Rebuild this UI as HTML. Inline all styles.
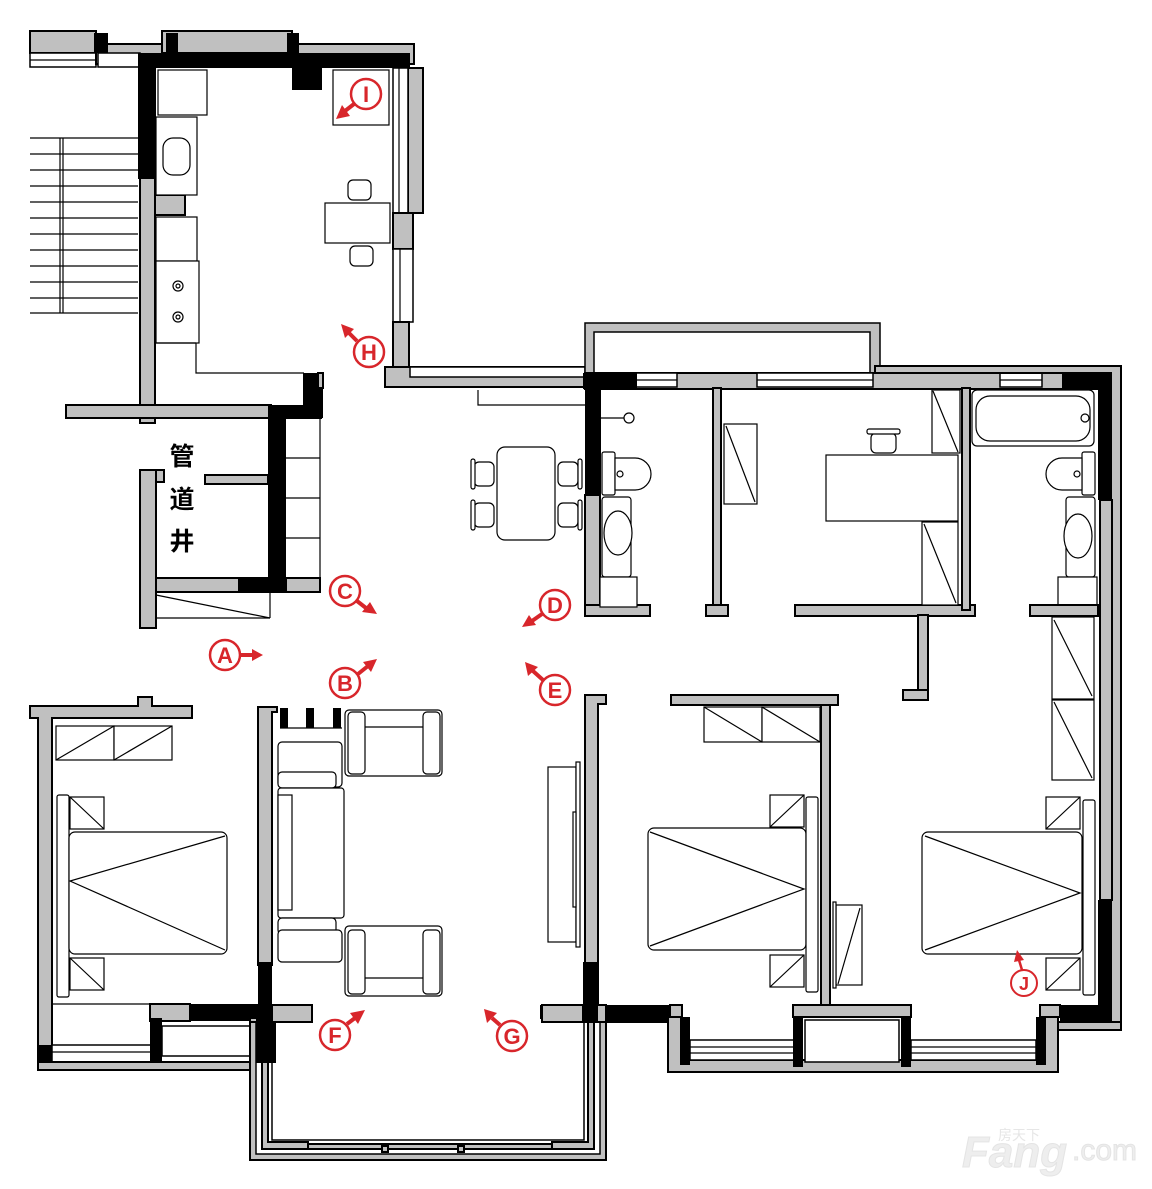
<!DOCTYPE html>
<html><head><meta charset="utf-8"><style>
html,body{margin:0;padding:0;background:#fff;}
svg{display:block}
.w{fill:#c0c0c0;stroke:#000;stroke-width:2}
.b{fill:#000}
.f{fill:#fff;stroke:#000;stroke-width:1.2}
.l{stroke:#000;stroke-width:1.2;fill:none}
.wn{fill:#fff;stroke:#000;stroke-width:1.5}
.lbl circle{fill:#fff;stroke:#d8262b;stroke-width:2.5}
.lbl text{fill:#d8262b;font-family:"Liberation Sans",sans-serif;font-weight:bold;font-size:22px;text-anchor:middle}
.ar{stroke:#d8262b;stroke-width:4;fill:none}
.ah{fill:#d8262b}
</style></head><body>
<svg width="1152" height="1189" viewBox="0 0 1152 1189" xmlns="http://www.w3.org/2000/svg">
<rect class="w" x="30" y="31" width="66" height="22"/>
<rect class="wn" x="30" y="53" width="66" height="14"/>
<line class="l" x1="30" y1="60" x2="96" y2="60"/>
<rect class="w" x="96" y="44" width="318" height="20"/>
<rect class="w" x="162" y="31" width="130" height="22"/>
<rect class="b" x="94" y="33" width="14" height="20"/>
<rect class="b" x="166" y="33" width="12" height="22"/>
<rect class="b" x="287" y="33" width="12" height="22"/>
<rect class="wn" x="98" y="53" width="42" height="14"/>
<rect class="wn" x="245" y="53" width="45" height="14"/>
<rect class="b" x="138" y="53" width="272" height="15"/>
<rect class="b" x="138" y="53" width="18" height="126"/>
<rect class="b" x="292" y="53" width="30" height="37"/>
<rect class="w" x="140" y="178" width="15" height="245"/>
<rect class="w" x="155" y="195" width="30" height="20"/>
<rect class="w" x="408" y="68" width="15" height="145"/>
<rect class="wn" x="393" y="68" width="15" height="145"/>
<line class="l" x1="399" y1="68" x2="399" y2="213"/>
<rect class="w" x="393" y="213" width="20" height="36"/>
<rect class="wn" x="393" y="249" width="20" height="73"/>
<line class="l" x1="400" y1="249" x2="400" y2="322"/>
<rect class="w" x="393" y="322" width="16" height="45"/>
<rect class="w" x="385" y="367" width="200" height="20"/>
<rect class="wn" x="410" y="367" width="175" height="10"/>
<g class="l">
<line x1="30" y1="138" x2="138" y2="138"/><line x1="30" y1="154" x2="138" y2="154"/>
<line x1="30" y1="170" x2="138" y2="170"/><line x1="30" y1="186" x2="138" y2="186"/>
<line x1="30" y1="202" x2="138" y2="202"/><line x1="30" y1="218" x2="138" y2="218"/>
<line x1="30" y1="234" x2="138" y2="234"/><line x1="30" y1="250" x2="138" y2="250"/>
<line x1="30" y1="266" x2="138" y2="266"/><line x1="30" y1="282" x2="138" y2="282"/>
<line x1="30" y1="298" x2="138" y2="298"/><line x1="30" y1="313" x2="138" y2="313"/>
<line x1="60" y1="138" x2="60" y2="313"/><line x1="63" y1="138" x2="63" y2="313"/>
</g>
<rect class="f" x="158" y="70" width="49" height="45"/>
<rect class="f" x="156" y="117" width="41" height="78"/>
<rect class="f" x="163" y="138" width="27" height="37" rx="10"/>
<rect class="f" x="156" y="217" width="41" height="44"/>
<rect class="f" x="156" y="261" width="43" height="82"/>
<circle class="f" cx="178" cy="286" r="5"/><circle class="f" cx="178" cy="286" r="2"/>
<circle class="f" cx="178" cy="317" r="5"/><circle class="f" cx="178" cy="317" r="2"/>
<polyline class="l" points="196,343 196,373 304,373"/>
<line class="l" x1="156" y1="343" x2="196" y2="343"/>
<rect class="f" x="333" y="70" width="56" height="55"/>
<rect class="f" x="325" y="203" width="65" height="40"/>
<rect class="f" x="348" y="180" width="23" height="20" rx="5"/>
<rect class="f" x="350" y="246" width="23" height="20" rx="5"/>
<rect class="b" x="303" y="373" width="20" height="45"/>
<rect class="w" x="318" y="373" width="5" height="15"/>
<rect class="w" x="66" y="405" width="205" height="13"/>
<rect class="b" x="268" y="405" width="54" height="14"/>
<rect class="b" x="268" y="405" width="18" height="185"/>
<rect class="w" x="140" y="470" width="16" height="158"/>
<rect class="w" x="156" y="470" width="8" height="12"/>
<rect class="w" x="205" y="475" width="63" height="9"/>
<rect class="w" x="156" y="578" width="132" height="14"/>
<rect class="b" x="238" y="578" width="48" height="14"/>
<rect class="w" x="286" y="578" width="34" height="14"/>
<g class="l">
<line x1="286" y1="418" x2="320" y2="418"/><line x1="320" y1="418" x2="320" y2="578"/>
<line x1="286" y1="458" x2="320" y2="458"/><line x1="286" y1="498" x2="320" y2="498"/>
<line x1="286" y1="538" x2="320" y2="538"/>
<line x1="156" y1="595" x2="270" y2="618"/><line x1="270" y1="592" x2="270" y2="618"/>
<line x1="156" y1="618" x2="270" y2="618"/>
</g>
<text x="182" y="465" font-family="'Liberation Sans','Noto Sans CJK SC',sans-serif" font-weight="bold" font-size="25" text-anchor="middle">管</text>
<text x="182" y="508" font-family="'Liberation Sans','Noto Sans CJK SC',sans-serif" font-weight="bold" font-size="25" text-anchor="middle">道</text>
<text x="182" y="550" font-family="'Liberation Sans','Noto Sans CJK SC',sans-serif" font-weight="bold" font-size="25" text-anchor="middle">井</text>
<polyline class="l" points="478,390 478,405 585,405"/>
<rect class="f" x="497" y="447" width="58" height="93" rx="8"/>
<rect class="f" x="474" y="462" width="20" height="24" rx="5"/><rect class="f" x="471" y="459" width="4" height="30" rx="2"/>
<rect class="f" x="474" y="503" width="20" height="24" rx="5"/><rect class="f" x="471" y="500" width="4" height="30" rx="2"/>
<rect class="f" x="558" y="462" width="20" height="24" rx="5"/><rect class="f" x="578" y="459" width="4" height="30" rx="2"/>
<rect class="f" x="558" y="503" width="20" height="24" rx="5"/><rect class="f" x="578" y="500" width="4" height="30" rx="2"/>
<path class="wn" d="M585 323 H880 V373 H870 V332 H594 V373 H585 Z" style="fill:#c0c0c0"/>
<rect class="w" x="585" y="373" width="536" height="16"/>
<rect class="wn" x="635" y="373" width="42" height="14"/>
<rect class="wn" x="757" y="373" width="116" height="14"/>
<rect class="wn" x="1000" y="373" width="42" height="14"/>
<line class="l" x1="635" y1="380" x2="677" y2="380"/><line class="l" x1="757" y1="380" x2="873" y2="380"/><line class="l" x1="1000" y1="380" x2="1042" y2="380"/>
<path class="w" d="M875 366 H1121 V1030 H1111 V373 H875 Z"/>
<rect class="b" x="583" y="373" width="54" height="16"/>
<rect class="b" x="585" y="373" width="16" height="122"/>
<rect class="w" x="585" y="495" width="15" height="120"/>
<rect class="w" x="585" y="605" width="65" height="11"/>
<line class="l" x1="600" y1="418" x2="626" y2="418"/>
<circle class="f" cx="629" cy="418" r="5"/>
<rect class="f" x="602" y="452" width="13" height="43" rx="2"/>
<path class="f" d="M615 458 H635 A14 14 0 0 1 635 490 H615 Z"/>
<circle class="f" cx="620" cy="474" r="3"/>
<rect class="f" x="602" y="497" width="29" height="80" rx="3"/>
<ellipse class="f" cx="618" cy="533" rx="14" ry="22"/>
<rect class="f" x="600" y="577" width="37" height="30"/>
<rect class="w" x="713" y="388" width="8" height="222"/>
<rect class="w" x="706" y="605" width="22" height="11"/>
<rect class="f" x="724" y="424" width="33" height="80"/>
<line class="l" x1="726" y1="426" x2="755" y2="502"/>
<rect class="w" x="795" y="605" width="180" height="11"/>
<rect class="w" x="962" y="388" width="8" height="222"/>
<rect class="f" x="932" y="390" width="28" height="63"/>
<line class="l" x1="933" y1="391" x2="958" y2="452"/>
<rect class="f" x="826" y="455" width="132" height="66"/>
<rect class="f" x="871" y="433" width="25" height="20" rx="5"/><rect class="f" x="867" y="429" width="33" height="5" rx="2"/>
<rect class="f" x="922" y="522" width="36" height="83"/>
<line class="l" x1="924" y1="524" x2="956" y2="603"/>
<rect class="w" x="918" y="615" width="10" height="85"/>
<rect class="w" x="903" y="690" width="25" height="10"/>
<rect class="f" x="972" y="390" width="122" height="56" rx="5"/>
<rect class="f" x="976" y="396" width="114" height="45" rx="14"/>
<circle class="f" cx="1085" cy="418" r="4"/>
<rect class="b" x="1062" y="373" width="50" height="16"/>
<rect class="b" x="1098" y="373" width="14" height="127"/>
<rect class="w" x="1100" y="500" width="12" height="400"/>
<rect class="b" x="1098" y="900" width="14" height="110"/>
<rect class="f" x="1082" y="452" width="13" height="43" rx="2"/>
<path class="f" d="M1082 458 H1062 A14 14 0 0 0 1062 490 H1082 Z"/>
<circle class="f" cx="1077" cy="474" r="3"/>
<rect class="f" x="1066" y="497" width="29" height="80" rx="3"/>
<ellipse class="f" cx="1078" cy="536" rx="14" ry="22"/>
<rect class="f" x="1058" y="577" width="39" height="30"/>
<rect class="w" x="1030" y="605" width="68" height="11"/>
<rect class="f" x="1052" y="617" width="42" height="82"/>
<line class="l" x1="1054" y1="620" x2="1092" y2="696"/>
<rect class="f" x="1052" y="700" width="42" height="80"/>
<line class="l" x1="1054" y1="702" x2="1092" y2="778"/>
<path class="w" d="M585 695 H606 V704 H598 V1005 H585 Z"/>
<rect class="b" x="583" y="962" width="16" height="45"/>
<rect class="w" x="671" y="695" width="167" height="10"/>
<rect class="w" x="821" y="705" width="9" height="300"/>
<rect class="f" x="704" y="707" width="58" height="35"/><line class="l" x1="704" y1="707" x2="762" y2="742"/>
<rect class="f" x="762" y="707" width="58" height="35"/><line class="l" x1="762" y1="707" x2="820" y2="742"/>
<rect class="f" x="648" y="828" width="158" height="122" rx="6"/>
<polyline class="l" points="650,832 804,889 650,946"/>
<rect class="f" x="806" y="797" width="12" height="195" rx="2"/>
<rect class="f" x="770" y="795" width="34" height="32"/><line class="l" x1="770" y1="827" x2="804" y2="795"/>
<rect class="f" x="770" y="955" width="34" height="32"/><line class="l" x1="770" y1="987" x2="804" y2="955"/>
<rect class="f" x="836" y="905" width="26" height="80"/><line class="l" x1="838" y1="984" x2="860" y2="908"/>
<rect class="f" x="833" y="902" width="3" height="86"/>
<rect class="f" x="922" y="832" width="160" height="122" rx="6"/>
<polyline class="l" points="925,836 1080,893 925,950"/>
<rect class="f" x="1083" y="800" width="12" height="195" rx="2"/>
<rect class="f" x="1046" y="797" width="34" height="32"/><line class="l" x1="1046" y1="829" x2="1080" y2="797"/>
<rect class="f" x="1046" y="958" width="34" height="32"/><line class="l" x1="1046" y1="990" x2="1080" y2="958"/>
<rect class="b" x="540" y="1005" width="140" height="18"/>
<rect class="w" x="670" y="1005" width="12" height="12"/>
<path class="w" d="M668 1017 H682 V1060 H1045 V1017 H1058 V1072 H668 Z"/>
<rect class="b" x="680" y="1017" width="10" height="48"/>
<rect class="wn" x="690" y="1040" width="110" height="20"/>
<line class="l" x1="690" y1="1047" x2="800" y2="1047"/><line class="l" x1="690" y1="1053" x2="800" y2="1053"/>
<rect class="w" x="793" y="1005" width="118" height="12"/>
<rect class="b" x="793" y="1017" width="10" height="50"/><rect class="b" x="901" y="1017" width="10" height="50"/>
<rect class="wn" x="805" y="1020" width="94" height="42"/>
<rect class="wn" x="911" y="1040" width="125" height="20"/>
<line class="l" x1="911" y1="1047" x2="1036" y2="1047"/><line class="l" x1="911" y1="1053" x2="1036" y2="1053"/>
<rect class="b" x="1036" y="1017" width="10" height="48"/>
<rect class="w" x="1040" y="1005" width="20" height="12"/>
<path class="b" d="M1060 1005 H1112 V1022 H1060 Z"/>
<path class="w" d="M1058 1022 H1121 V1030 H1058 Z"/>
<path class="w" d="M30 706 H138 V697 H152 V706 H192 V718 H52 V1060 H38 V718 H30 Z"/>
<rect class="f" x="56" y="726" width="58" height="34"/><line class="l" x1="56" y1="760" x2="114" y2="726"/>
<rect class="f" x="114" y="726" width="58" height="34"/><line class="l" x1="114" y1="760" x2="172" y2="726"/>
<rect class="f" x="57" y="795" width="12" height="202" rx="2"/>
<rect class="f" x="69" y="832" width="158" height="122" rx="6"/>
<polyline class="l" points="225,836 70,881 225,950"/>
<rect class="f" x="70" y="797" width="34" height="32"/><line class="l" x1="70" y1="797" x2="104" y2="829"/>
<rect class="f" x="70" y="958" width="34" height="32"/><line class="l" x1="70" y1="958" x2="104" y2="990"/>
<line class="l" x1="52" y1="1004" x2="150" y2="1004"/>
<rect class="b" x="38" y="1045" width="14" height="20"/>
<rect class="wn" x="52" y="1045" width="100" height="18"/>
<line class="l" x1="52" y1="1052" x2="152" y2="1052"/>
<path class="w" d="M38 1062 H260 V1070 H38 Z"/>
<rect class="w" x="150" y="1004" width="40" height="17"/>
<rect class="b" x="190" y="1004" width="122" height="17"/>
<rect class="b" x="150" y="1018" width="12" height="45"/>
<rect class="wn" x="162" y="1026" width="88" height="30"/>
<rect class="w" x="250" y="1018" width="10" height="45"/>
<path class="w" d="M258 707 H277 V712 H272 V965 H258 Z"/>
<rect class="b" x="258" y="962" width="14" height="105"/>
<rect class="b" x="280" y="708" width="8" height="20"/><rect class="b" x="306" y="708" width="8" height="20"/><rect class="b" x="333" y="708" width="8" height="20"/>
<line class="l" x1="280" y1="728" x2="342" y2="728"/>
<rect class="f" x="278" y="742" width="64" height="45" rx="4"/>
<rect class="f" x="278" y="772" width="58" height="16" rx="4"/>
<rect class="f" x="278" y="788" width="66" height="130" rx="3"/>
<rect class="f" x="278" y="795" width="14" height="115"/>
<rect class="f" x="278" y="918" width="58" height="16" rx="4"/>
<rect class="f" x="278" y="930" width="64" height="32" rx="4"/>
<rect class="f" x="345" y="710" width="97" height="66" rx="4"/>
<rect class="f" x="348" y="712" width="17" height="62" rx="4"/><rect class="f" x="423" y="712" width="17" height="62" rx="4"/>
<line class="l" x1="365" y1="727" x2="423" y2="727"/>
<rect class="f" x="345" y="926" width="97" height="70" rx="4"/>
<rect class="f" x="348" y="930" width="17" height="64" rx="4"/><rect class="f" x="423" y="930" width="17" height="64" rx="4"/>
<line class="l" x1="365" y1="978" x2="423" y2="978"/>
<rect class="f" x="548" y="767" width="28" height="175"/>
<rect class="f" x="576" y="762" width="4" height="185"/>
<rect class="f" x="573" y="812" width="3" height="95"/>
<!-- balcony -->
<rect class="w" x="250" y="1022" width="356" height="138"/>
<rect class="wn" x="256" y="1022" width="344" height="132"/>
<path class="w" d="M262 1022 H268 V1142 H308 V1149 H262 Z"/>
<path class="w" d="M594 1022 H588 V1142 H552 V1149 H594 Z"/>
<rect class="w" x="308" y="1144" width="244" height="5"/>
<rect class="wn" x="272" y="1022" width="312" height="118"/>
<rect x="256" y="1018" width="20" height="45" fill="#000"/>
<rect class="w" x="272" y="1005" width="40" height="17"/>
<rect class="w" x="542" y="1005" width="64" height="17"/>
<rect x="265" y="1005" width="8" height="58" fill="#000"/>
<rect x="582" y="1005" width="16" height="17" fill="#000"/>
<rect x="313" y="1019" width="228" height="6" fill="#fff"/>
<rect class="w" x="382" y="1146" width="6" height="6"/><rect class="w" x="458" y="1146" width="6" height="6"/>
<g class="lbl">
<circle cx="225" cy="655" r="15"/><text x="225" y="663">A</text>
<circle cx="345" cy="683" r="15"/><text x="345" y="691">B</text>
<circle cx="345" cy="591" r="15"/><text x="345" y="599">C</text>
<circle cx="555" cy="605" r="15"/><text x="555" y="613">D</text>
<circle cx="555" cy="690" r="15"/><text x="555" y="698">E</text>
<circle cx="335" cy="1035" r="15"/><text x="335" y="1043">F</text>
<circle cx="512" cy="1036" r="15"/><text x="512" y="1044">G</text>
<circle cx="369" cy="352" r="15"/><text x="369" y="360">H</text>
<circle cx="366" cy="94" r="15"/><text x="366" y="102">I</text>
<circle cx="1024" cy="983" r="13" style="stroke-width:2"/><text x="1024" y="990" style="font-size:18px">J</text>
</g>
<path class="ar" d="M241 655 H254"/><polygon class="ah" points="252,649 263,655 252,661"/>
<path class="ar" d="M358 674 L368 666"/><polygon class="ah" points="363,662 377,659 371,672"/>
<path class="ar" d="M357 601 L366 608"/><polygon class="ah" points="362,612 377,614 370,602"/>
<path class="ar" d="M542 614 L532 621"/><polygon class="ah" points="529,615 522,627 536,625"/>
<path class="ar" d="M543 680 L533 671"/><polygon class="ah" points="528,676 525,662 538,667"/>
<path class="ar" d="M347 1024 L355 1018"/><polygon class="ah" points="350,1013 365,1010 358,1024"/>
<path class="ar" d="M500 1025 L492 1018"/><polygon class="ah" points="487,1023 484,1009 497,1013"/>
<path class="ar" d="M357 341 L349 333"/><polygon class="ah" points="345,338 341,324 354,329"/>
<path class="ar" d="M354 104 L345 111"/><polygon class="ah" points="342,105 336,119 350,116"/>
<path d="M1022 970 L1019 960" stroke="#d8262b" stroke-width="2.5"/><polygon class="ah" points="1014,962 1017,950 1024,960"/>
<text x="962" y="1167" font-family="'Liberation Sans',sans-serif" font-style="italic" font-weight="bold" font-size="44" fill="#eeeeee" stroke="#e4e4e4" stroke-width="1">Fang</text>
<text x="1072" y="1160" font-family="'Liberation Sans',sans-serif" font-size="30" fill="#eeeeee" stroke="#e4e4e4" stroke-width="1">.com</text>
<text x="998" y="1140" font-family="'Liberation Sans','Noto Sans CJK SC',sans-serif" font-size="14" fill="#e6e6e6">房天下</text>
</svg>
</body></html>
